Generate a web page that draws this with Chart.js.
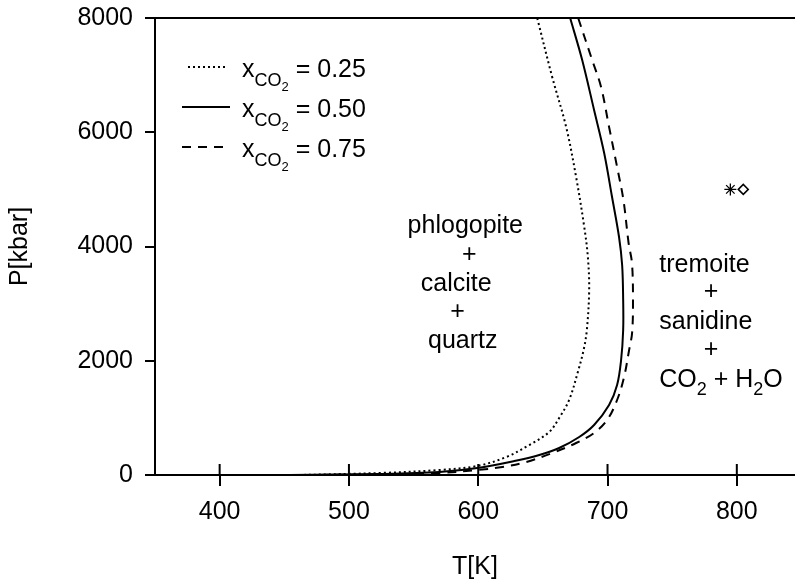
<!DOCTYPE html>
<html>
<head>
<meta charset="utf-8">
<script src="https://cdn.jsdelivr.net/npm/chart.js@4.4.0/dist/chart.umd.min.js"></script>
<style>
  html, body { margin: 0; padding: 0; background: #fff; }
  canvas { display: block; }
</style>
</head>
<body>
<canvas id="chart" width="795" height="582"></canvas>
<script>
// along each curve from the top down
var t025 = [645.6, 657.2, 668.0, 675.7, 682.0, 684.8, 685.8, 684.0, 681.5, 677.0, 670.3, 662.6, 654.9, 639.5, 621.7, 599.3, 570.0, 523.7, 462.0];
var p025 = [8000, 6967, 6092, 5216, 4341, 3816, 3238, 2538, 2188, 1800, 1313, 998, 753, 525, 315, 158, 88, 35, 0];

var t050 = [671.1, 680.4, 689.6, 697.4, 703.5, 708.9, 711.3, 712.1, 712.1, 710.5, 707.4, 701.2, 689.6, 678.1, 662.6, 647.2, 627.9, 599.3, 570.0, 523.7, 454.0];
var p050 = [8000, 7265, 6389, 5637, 4866, 4166, 3676, 3063, 2538, 2013, 1575, 1225, 875, 665, 473, 350, 245, 123, 53, 18, 0];

var t075 = [677.3, 688.1, 695.0, 701.2, 707.4, 712.3, 716.3, 718.9, 719.7, 719.0, 716.7, 712.8, 707.4, 699.7, 689.6, 675.7, 657.2, 637.1, 618.6, 599.3, 570.0, 523.7, 462.0];
var p075 = [8000, 7265, 6792, 6092, 5392, 4814, 4061, 3711, 3063, 2486, 2188, 1715, 1313, 963, 735, 560, 385, 228, 140, 88, 35, 9, 0];

var starT = [795], starP = [5000];
var diamondT = [805], diamondP = [5000];

var xTicks = [400, 500, 600, 700, 800];
var yTicks = [0, 2000, 4000, 6000, 8000];

var legendValues = ['0.25', '0.50', '0.75'];

Chart.defaults.font.family = '"Liberation Sans", Arial, sans-serif';
Chart.defaults.font.size = 25;
Chart.defaults.color = '#000';

function pts(ts, ps) {
  return ts.map(function (t, i) { return { x: t, y: ps[i] }; });
}

function curve(ts, ps, dash) {
  return {
    data: pts(ts, ps),
    showLine: true,
    pointRadius: 0,
    borderColor: '#000',
    borderWidth: 2,
    borderDash: dash,
    tension: 0.35,
    fill: false
  };
}

// text pieces: [string, level]; level 1 = subscript, 2 = subscript of subscript
function richWidth(ctx, parts, sizes) {
  var w = 0;
  parts.forEach(function (p) {
    ctx.font = sizes[p[1]] + 'px "Liberation Sans", Arial, sans-serif';
    w += ctx.measureText(p[0]).width;
  });
  return w;
}

function drawRich(ctx, parts, x, y, align, sizes, drops) {
  var w = richWidth(ctx, parts, sizes);
  var cx = align === 'center' ? x - w / 2 : x;
  ctx.textAlign = 'left';
  ctx.textBaseline = 'alphabetic';
  parts.forEach(function (p) {
    ctx.font = sizes[p[1]] + 'px "Liberation Sans", Arial, sans-serif';
    ctx.fillText(p[0], cx, y + drops[p[1]]);
    cx += ctx.measureText(p[0]).width;
  });
}

// region labels, placed in data units (T, P of the text middle)
var labels = [
  { parts: [['phlogopite', 0]], T: 590, P: 4394, align: 'center' },
  { parts: [['+', 0]], T: 593, P: 3886, align: 'center' },
  { parts: [['calcite', 0]], T: 583, P: 3378, align: 'center' },
  { parts: [['+', 0]], T: 584, P: 2888, align: 'center' },
  { parts: [['quartz', 0]], T: 588, P: 2381, align: 'center' },
  { parts: [['tremoite', 0]], T: 740, P: 3711, align: 'left' },
  { parts: [['+', 0]], T: 780, P: 3238, align: 'center' },
  { parts: [['sanidine', 0]], T: 740, P: 2713, align: 'left' },
  { parts: [['+', 0]], T: 780, P: 2223, align: 'center' },
  { parts: [['CO', 0], ['2', 1], [' + H', 0], ['2', 1], ['O', 0]], T: 740, P: 1698, align: 'left' }
];

var framePlugin = {
  id: 'frame',
  afterDraw: function (chart) {
    var ctx = chart.ctx, a = chart.chartArea, xs = chart.scales.x, ys = chart.scales.y;
    ctx.save();
    ctx.strokeStyle = '#000';
    ctx.lineWidth = 2;
    ctx.beginPath();
    ctx.moveTo(a.left, a.top);
    ctx.lineTo(a.right, a.top);
    xs.ticks.forEach(function (t) {
      var px = xs.getPixelForValue(t.value);
      ctx.moveTo(px, a.bottom);
      ctx.lineTo(px, a.bottom - 11);
    });
    ctx.stroke();

    // region labels
    ctx.fillStyle = '#000';
    labels.forEach(function (l) {
      var px = xs.getPixelForValue(l.T);
      var py = ys.getPixelForValue(l.P) + 9;
      drawRich(ctx, l.parts, px, py, l.align, [25, 18], [0, 8]);
    });

    // legend
    var ds = chart.data.datasets;
    for (var i = 0; i < 3; i++) {
      var y = a.top + 49 + i * 40;
      ctx.beginPath();
      ctx.setLineDash(ds[i].borderDash);
      ctx.lineWidth = 2;
      var x0 = i === 0 ? a.left + 33 : a.left + 27;
      var x1 = i === 0 ? a.left + 70 : a.left + 75;
      ctx.moveTo(x0, y);
      ctx.lineTo(x1, y);
      ctx.stroke();
      ctx.setLineDash([]);
      drawRich(ctx, [['x', 0], ['CO', 1], ['2', 2], [' = ' + legendValues[i], 0]],
        a.left + 87, y + 10, 'left', [25, 18, 13], [0, 9, 14]);
    }
    ctx.restore();
  }
};

function plain(v) { return String(v); }

new Chart(document.getElementById('chart'), {
  type: 'scatter',
  data: {
    datasets: [
      curve(t025, p025, [2, 3]),
      curve(t050, p050, []),
      curve(t075, p075, [9, 7]),
      {
        data: pts(starT, starP),
        pointStyle: 'star',
        pointRadius: 6,
        borderColor: '#000',
        borderWidth: 1.3
      },
      {
        data: pts(diamondT, diamondP),
        pointStyle: 'rectRot',
        pointRadius: 5,
        backgroundColor: '#fff',
        borderColor: '#000',
        borderWidth: 1.5
      }
    ]
  },
  options: {
    responsive: false,
    animation: false,
    layout: { autoPadding: false, padding: { top: 18, right: 0, bottom: 0, left: 0 } },
    plugins: { legend: { display: false }, tooltip: { enabled: false } },
    scales: {
      x: {
        type: 'linear',
        min: 350,
        max: 845,
        afterBuildTicks: function (s) { s.ticks = xTicks.map(function (v) { return { value: v }; }); },
        afterFit: function (s) { s.height = 107; s.paddingLeft = 0; s.paddingRight = 0; },
        grid: { drawOnChartArea: false, drawTicks: true, tickLength: 11, color: '#000', lineWidth: 2 },
        border: { display: true, color: '#000', width: 2 },
        ticks: { padding: 11, color: '#000', maxRotation: 0, callback: plain },
        title: { display: true, text: 'T[K]', color: '#000', padding: { top: 0, bottom: 0 } }
      },
      y: {
        type: 'linear',
        min: 0,
        max: 8000,
        afterBuildTicks: function (s) { s.ticks = yTicks.map(function (v) { return { value: v }; }); },
        afterFit: function (s) { s.width = 155; s.paddingTop = 0; s.paddingBottom = 0; },
        grid: { drawOnChartArea: false, drawTicks: true, tickLength: 10, color: '#000', lineWidth: 2 },
        border: { display: true, color: '#000', width: 2 },
        ticks: { padding: 12, color: '#000', callback: plain },
        title: { display: true, text: 'P[kbar]', color: '#000', padding: { top: 5, bottom: 0 } }
      }
    }
  },
  plugins: [framePlugin]
});
</script>
</body>
</html>
